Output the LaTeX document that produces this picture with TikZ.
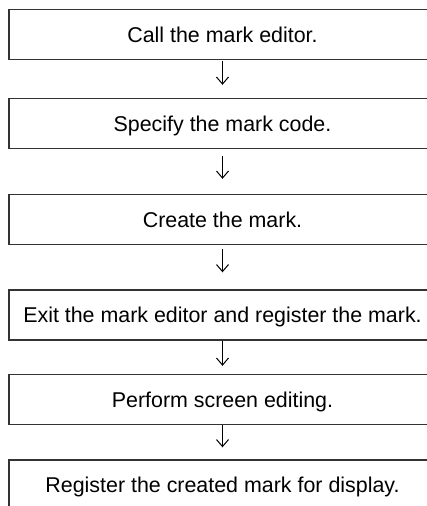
\documentclass[tikz,border=0pt]{standalone}
\usepackage{fontspec}
\setmainfont{Liberation Sans}
\usetikzlibrary{arrows.meta}
\tikzset{
  stepbox/.style={draw=black!80, line width=1.4pt, minimum width=427pt,
    minimum height=50pt, inner sep=0pt, text height=15pt, text depth=0pt,
    font=\fontsize{21.4}{25}\selectfont},
  flow/.style={line width=1pt, -{Straight Barb[length=7pt,width=12pt,line width=1pt]}}
}
\begin{document}
\begin{tikzpicture}[x=1pt,y=1pt]
        \useasboundingbox (0,0) rectangle (427,-506);
        \clip (0,0) rectangle (427,-506);
        % steps
        \node[stepbox] (call) at (222.5,-34.5) {Call the mark editor.};
        \node[stepbox] (code) at (222.5,-123.5) {Specify the mark code.};
        \node[stepbox] (create) at (222.5,-219.5) {Create the mark.};
        \node[stepbox] (exit) at (222.5,-315) {Exit the mark editor and register the mark.};
        \node[stepbox] (screen) at (222.5,-399.5) {Perform screen editing.};
        \node[stepbox] (display) at (222.5,-485) {Register the created mark for display.};
        % arrows
        \draw[flow, shorten <=1pt, shorten >=13pt] (call.south) -- (code.north);
        \draw[flow, shorten <=7pt, shorten >=15pt] (code.south) -- (create.north);
        \draw[flow, shorten <=4pt, shorten >=17pt] (create.south) -- (exit.north);
        \draw[flow, shorten <=0pt, shorten >=8pt] (exit.south) -- (screen.north);
        \draw[flow, shorten <=0pt, shorten >=12pt] (screen.south) -- (display.north);
    \end{tikzpicture}
\end{document}
